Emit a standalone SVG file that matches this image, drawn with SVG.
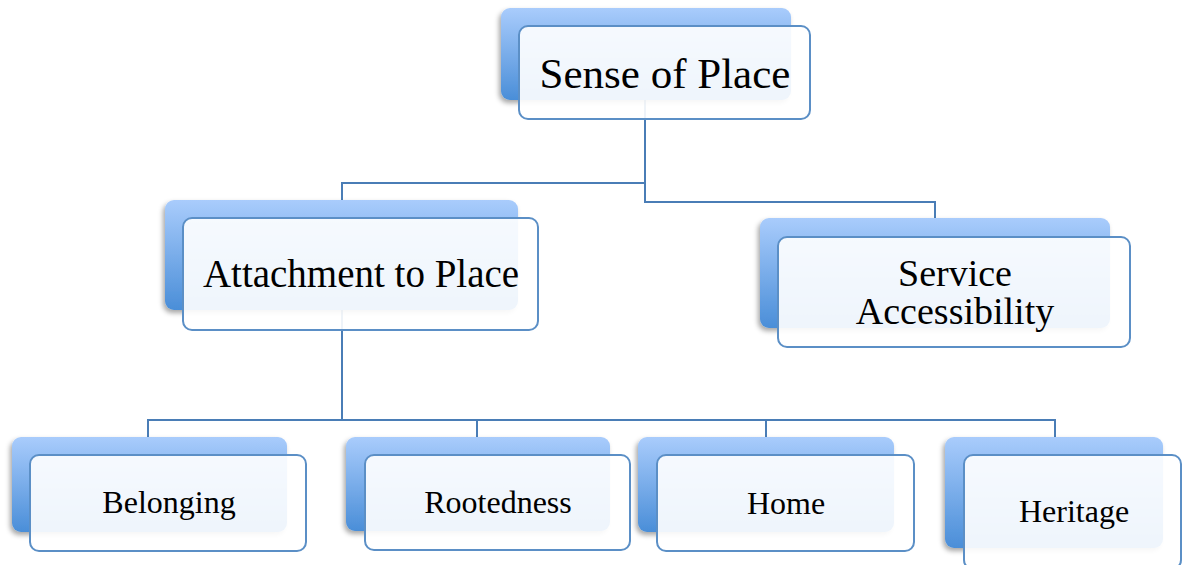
<svg xmlns="http://www.w3.org/2000/svg" width="1182" height="565" viewBox="0 0 1182 565">
  <defs>
    <linearGradient id="backGrad" x1="0" y1="0" x2="0" y2="1">
      <stop offset="0" stop-color="#a9ccfc"/>
      <stop offset="1" stop-color="#4a8ed8"/>
    </linearGradient>
    <filter id="shadow" x="-10%" y="-10%" width="120%" height="130%">
      <feDropShadow dx="-2" dy="3" stdDeviation="2.5" flood-color="#000" flood-opacity="0.35"/>
    </filter>
    <style>
      .back { fill: url(#backGrad); filter: url(#shadow); }
      .front { fill: #ffffff; fill-opacity: 0.91; stroke: #5b8fc6; stroke-width: 2; }
      .conn { fill: none; stroke: #4a7db6; stroke-width: 2; }
      .lbl { font-family: "Liberation Serif", "Times New Roman", serif; fill: #000; text-anchor: middle; }
    </style>
  </defs>
  <rect width="1182" height="565" fill="#ffffff"/>

  <g id="connectors">
    <path class="conn" d="M645,100 V202 H935 V218"/>
    <path class="conn" d="M645,183 H342 V200"/>
    <path class="conn" d="M342,310 V420"/>
    <path class="conn" d="M148,437 V420 H1055 V437"/>
    <path class="conn" d="M477,420 V437"/>
    <path class="conn" d="M766,420 V437"/>
  </g>

  <g id="node-sense-of-place">
    <rect class="back" x="501" y="8" width="290" height="92" rx="9"/>
    <rect class="front" x="519" y="26" width="291" height="93" rx="9"/>
    <text class="lbl" x="665" y="88" font-size="43">Sense of Place</text>
  </g>

  <g id="node-attachment">
    <rect class="back" x="165" y="200" width="353" height="110" rx="9"/>
    <rect class="front" x="183" y="218" width="355" height="112" rx="9"/>
    <text class="lbl" x="361" y="287" font-size="39">Attachment to Place</text>
  </g>

  <g id="node-service">
    <rect class="back" x="760" y="218" width="350" height="110" rx="9"/>
    <rect class="front" x="778" y="237" width="352" height="110" rx="9"/>
    <text class="lbl" x="955" y="286" font-size="38">Service</text>
    <text class="lbl" x="955" y="324" font-size="38">Accessibility</text>
  </g>

  <g id="node-belonging">
    <rect class="back" x="12" y="437" width="275" height="95" rx="9"/>
    <rect class="front" x="30" y="455" width="276" height="96" rx="9"/>
    <text class="lbl" x="169" y="513" font-size="32">Belonging</text>
  </g>

  <g id="node-rootedness">
    <rect class="back" x="346" y="437" width="264" height="94" rx="9"/>
    <rect class="front" x="365" y="455" width="265" height="95" rx="9"/>
    <text class="lbl" x="498" y="513" font-size="32">Rootedness</text>
  </g>

  <g id="node-home">
    <rect class="back" x="638" y="437" width="256" height="95" rx="9"/>
    <rect class="front" x="657" y="455" width="257" height="96" rx="9"/>
    <text class="lbl" x="786" y="514" font-size="32">Home</text>
  </g>

  <g id="node-heritage">
    <rect class="back" x="945" y="437" width="218" height="111" rx="9"/>
    <rect class="front" x="964" y="455" width="217" height="114" rx="9"/>
    <text class="lbl" x="1074" y="522" font-size="32">Heritage</text>
  </g>
</svg>
